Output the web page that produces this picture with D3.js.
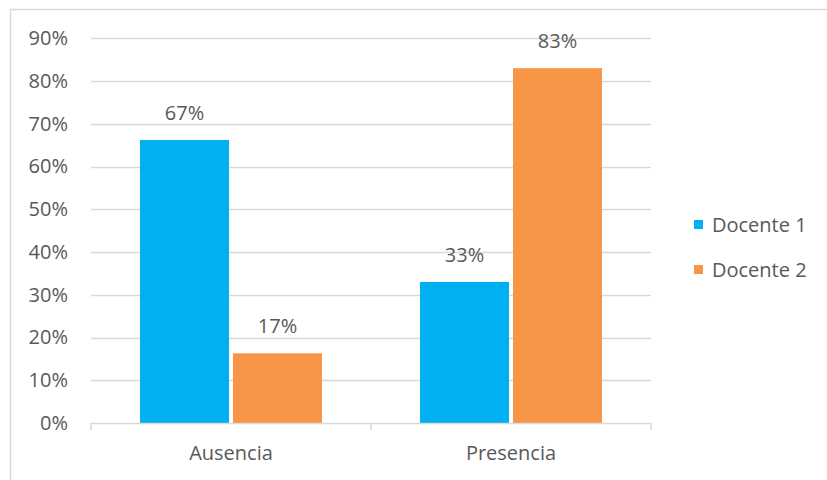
<!DOCTYPE html>
<html>
<head>
<meta charset="utf-8">
<script src="https://cdn.jsdelivr.net/npm/d3@7"></script>
<style>
  html, body { margin: 0; padding: 0; background: #fff; }
  svg { display: block; }
  text { font-family: "Open Sans", sans-serif; fill: #595959; }
</style>
</head>
<body>
<svg id="chart" width="827" height="480"></svg>
<script>
const categories = ["Ausencia", "Presencia"];
const seriesNames = ["Docente 1", "Docente 2"];
const docente1 = [0.662, 0.33];
const docente2 = [0.163, 0.83];
const docente1Labels = ["67%", "33%"];
const docente2Labels = ["17%", "83%"];
const yTicks = [0, 0.1, 0.2, 0.3, 0.4, 0.5, 0.6, 0.7, 0.8, 0.9];
const seriesColors = ["#00B0F0", "#F79646"];

const seriesValues = [docente1, docente2];
const seriesLabels = [docente1Labels, docente2Labels];
const FS = "20px";
const svg = d3.select("#chart");

// outer chart border
svg.append("rect")
  .attr("x", 10.5).attr("y", 9.5)
  .attr("width", 830).attr("height", 480)
  .attr("fill", "none").attr("stroke", "#D9D9D9").attr("stroke-width", 1.5);

const plotLeft = 91, plotRight = 651, plotTop = 38.25, plotBottom = 423;

const y = d3.scaleLinear().domain([0, 0.9]).range([plotBottom, plotTop]);
const x0 = d3.scaleBand().domain(categories).range([plotLeft, plotRight]).padding(0);
const x1 = d3.scaleBand().domain(seriesNames)
  .range([49, x0.bandwidth() - 49]).paddingInner(0.043).paddingOuter(0);

// gridlines
svg.append("g").selectAll("line")
  .data(yTicks.filter(d => d > 0))
  .join("line")
  .attr("x1", plotLeft).attr("x2", plotRight)
  .attr("y1", d => Math.round(y(d)) + 0.5).attr("y2", d => Math.round(y(d)) + 0.5)
  .attr("stroke", "#D9D9D9").attr("stroke-width", 1.5);

// y axis labels
const yAxis = d3.axisLeft(y).tickValues(yTicks).tickFormat(d3.format(".0%"))
  .tickSize(0).tickPadding(23);
const yg = svg.append("g").attr("transform", `translate(${plotLeft},0)`).call(yAxis);
yg.select(".domain").remove();
yg.selectAll("text").style("font-size", FS).attr("fill", "#595959")
  .style("font-family", "'Open Sans', sans-serif");

// bars
const groups = svg.append("g").selectAll("g")
  .data(categories)
  .join("g")
  .attr("transform", d => `translate(${x0(d)},0)`);

const cellData = (c, i) => seriesNames.map((s, j) => ({ s, j, v: seriesValues[j][i], l: seriesLabels[j][i] }));

groups.selectAll("rect")
  .data(cellData)
  .join("rect")
  .attr("x", d => x1(d.s))
  .attr("y", d => y(d.v))
  .attr("width", x1.bandwidth())
  .attr("height", d => plotBottom - y(d.v))
  .attr("fill", d => seriesColors[d.j]);

groups.selectAll("text.lbl")
  .data(cellData)
  .join("text")
  .attr("class", "lbl")
  .attr("x", d => x1(d.s) + x1.bandwidth() / 2)
  .attr("y", d => y(d.v) - 20)
  .attr("text-anchor", "middle")
  .style("font-size", FS)
  .text(d => d.l);

// x axis
const xAxis = d3.axisBottom(x0).tickSize(0).tickPadding(0);
const xg = svg.append("g").attr("transform", `translate(0,${plotBottom})`).call(xAxis);
xg.select(".domain").attr("stroke", "#D9D9D9").attr("stroke-width", 1.5)
  .attr("d", `M${plotLeft},0.5H${plotRight}`);
xg.selectAll("text").style("font-size", FS).attr("fill", "#595959")
  .style("font-family", "'Open Sans', sans-serif")
  .attr("y", 37).attr("dy", 0);
svg.append("g").selectAll("line")
  .data([plotLeft, ...categories.map(c => x0(c) + x0.bandwidth())])
  .join("line")
  .attr("x1", d => d).attr("x2", d => d)
  .attr("y1", plotBottom).attr("y2", plotBottom + 7)
  .attr("stroke", "#D9D9D9").attr("stroke-width", 1.5);

// legend
const legend = svg.append("g").selectAll("g")
  .data(seriesNames)
  .join("g")
  .attr("transform", (d, i) => `translate(694,${224.5 + i * 45})`);
legend.append("rect")
  .attr("x", 0).attr("y", -4.5).attr("width", 9).attr("height", 9)
  .attr("fill", (d, i) => seriesColors[i]);
legend.append("text")
  .attr("x", 18).attr("y", 0).attr("dy", "0.36em")
  .style("font-size", FS)
  .text(d => d);
</script>
</body>
</html>
